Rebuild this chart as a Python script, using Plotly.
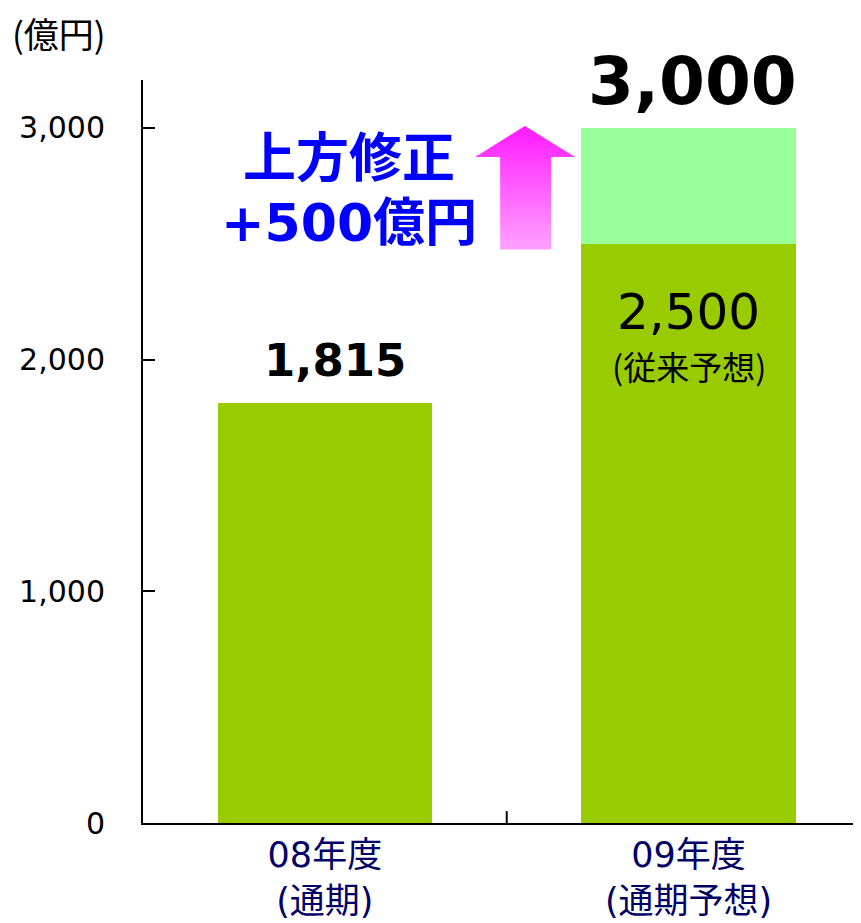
import plotly.graph_objects as go

categories = ["08年度<br>(通期)", "09年度<br>(通期予想)"]
base_values = [1815, 2500]
revision_values = [0, 500]
totals = [1815, 3000]
y_tickvals = [0, 1000, 2000, 3000]
y_ticktext = ["0", "1,000", "2,000", "3,000"]

FONT = "DejaVu Sans, Noto Sans CJK JP"
CJK = "Noto Sans CJK JP"
DARK_GREEN = "#99CC00"
LIGHT_GREEN = "#99FF99"

W, H = 853, 915
ML, MT, MB, MR = 135, 72, 100, 0
PH = H - MT - MB
PW = W - ML - MR

fig = go.Figure()
fig.add_trace(go.Bar(
    x=[0, 1], y=base_values, width=0.59,
    marker=dict(color=DARK_GREEN, line=dict(width=0)),
    hoverinfo="skip", showlegend=False,
))
fig.add_trace(go.Bar(
    x=[0, 1], y=revision_values, width=0.59,
    marker=dict(color=LIGHT_GREEN, line=dict(width=0)),
    hoverinfo="skip", showlegend=False,
))

# upward arrow (prior forecast -> revised forecast)
prior = base_values[1]
revised = totals[1]
head_base = revised - 0.25 * (revised - prior)
ax = [0.482, 0.622, 0.622, 0.688, 0.55, 0.413, 0.482, 0.482]
ay = [prior - 25, prior - 25, head_base, head_base, revised + 8, head_base, head_base, prior - 25]
fig.add_trace(go.Scatter(
    x=ax, y=ay, mode="lines", fill="toself",
    line=dict(width=0, color="rgba(0,0,0,0)"),
    fillgradient=dict(type="vertical", start=prior, stop=revised,
                      colorscale=[[0, "#FF9CFF"], [1, "#FF1CFF"]]),
    hoverinfo="skip", showlegend=False,
))

annotations = [
    dict(x=0, y=totals[0], xref="x", yref="y", text="<b>1,815</b>",
         showarrow=False, yanchor="middle", yshift=42, xshift=10,
         font=dict(family=FONT, size=45, color="black")),
    dict(x=1, y=totals[1], xref="x", yref="y", text="<b>3,000</b>",
         showarrow=False, yanchor="middle", yshift=46, xshift=4,
         font=dict(family=FONT, size=66, color="black")),
    dict(x=1, y=base_values[1], xref="x", yref="y", text="2,500",
         showarrow=False, yanchor="middle", yshift=-68,
         font=dict(family=FONT, size=50, color="black")),
    dict(x=1, y=base_values[1], xref="x", yref="y", text="(従来予想)",
         showarrow=False, yanchor="middle", yshift=-122,
         font=dict(family=CJK, size=33, color="black")),
    dict(x=0.067, y=2870, xref="x", yref="y", text="<b>上方修正</b>",
         showarrow=False, yanchor="middle",
         font=dict(family=FONT, size=53, color="#0000FF")),
    dict(x=0.067, y=2590, xref="x", yref="y", text="<b>+500億円</b>",
         showarrow=False, yanchor="middle",
         font=dict(family=FONT, size=52, color="#0000FF")),
    dict(x=(2 - ML) / PW, y=1 + (MT - 2) / PH, xref="paper", yref="paper", text="(億円)",
         showarrow=False, xanchor="left", yanchor="top", yshift=5,
         font=dict(family=CJK, size=35, color="black")),
]

fig.update_layout(
    width=W, height=H,
    margin=dict(l=ML, r=MR, t=MT, b=MB, autoexpand=False),
    paper_bgcolor="white", plot_bgcolor="white",
    barmode="stack",
    annotations=annotations,
    font=dict(family=FONT),
)
fig.update_xaxes(
    type="linear", range=[-0.5, 1.474],
    tickvals=[0, 1], ticktext=categories,
    ticks="", showgrid=False, zeroline=False,
    showline=True, linecolor="black", linewidth=2,
    tickfont=dict(family=FONT, size=35, color="#000066"),
    fixedrange=True,
)
fig.update_yaxes(
    range=[0, 3207], tickvals=y_tickvals, ticktext=y_ticktext,
    ticks="inside", ticklen=12, tickwidth=2, tickcolor="black",
    showgrid=False, zeroline=False,
    showline=True, linecolor="black", linewidth=2,
    tickfont=dict(family=FONT, size=30, color="black"),
    ticklabelstandoff=30,
    fixedrange=True,
)
# middle tick on x axis between categories
fig.add_shape(type="line", xref="x", yref="y domain", x0=0.5, x1=0.5, y0=0, y1=0.016,
              line=dict(color="black", width=2))

fig.write_html("out.html", config={"displayModeBar": False})
